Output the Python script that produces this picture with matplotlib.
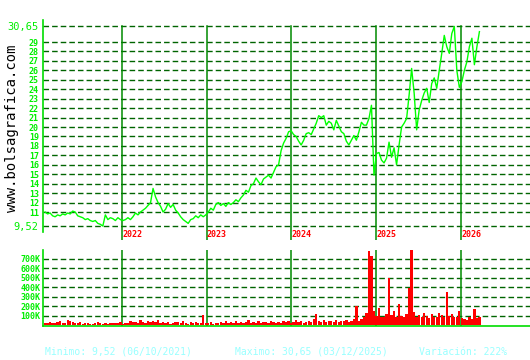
import numpy as np
import pandas as pd
import matplotlib
matplotlib.use("Agg")
import matplotlib.pyplot as plt

# daily-ish closes (about one value every 2.5 px)
price = [
    11.0, 10.8, 10.9, 10.6, 10.5, 10.7, 10.6, 10.8, 10.7, 10.9, 10.8, 11.1,
    11.0, 10.6, 10.5, 10.4, 10.2, 10.3, 10.1, 10.0, 10.1, 9.8, 9.7, 9.52,
    10.7, 10.2, 10.4, 10.3, 10.1, 10.4, 10.2, 10.1, 10.2, 10.4, 10.2, 10.5,
    10.9, 10.7, 11.0, 11.2, 11.4, 11.7, 12.0, 13.5, 12.6, 12.0, 11.6, 11.0,
    11.3, 11.9, 11.5, 11.8, 11.2, 10.9, 10.5, 10.2, 10.0, 9.8, 10.2, 10.3,
    10.6, 10.4, 10.7, 10.5, 10.7, 11.0, 11.4, 11.2, 11.8, 12.0, 11.7, 11.9,
    11.6, 12.0, 11.8, 12.0, 12.3, 12.1, 12.5, 12.8, 13.3, 13.1, 13.8, 14.0,
    14.6, 14.2, 13.9, 14.5, 14.7, 14.9, 14.6, 15.2, 15.8, 16.0, 17.5, 18.3,
    18.8, 19.5, 19.6, 19.2, 19.0, 18.5, 18.1, 18.6, 19.3, 19.4, 19.2, 19.8,
    20.4, 21.2, 21.0, 21.2, 20.2, 20.6, 20.4, 19.7, 20.7, 20.1, 19.5, 19.3,
    18.5, 18.1, 18.6, 19.1, 18.6, 19.5, 20.5, 20.2, 20.2, 20.9, 22.3, 14.9,
    17.2, 17.3, 16.5, 16.2, 16.7, 18.4, 16.8, 17.8, 16.0, 18.1, 20.0, 20.4,
    20.9, 23.4, 26.2, 23.6, 19.7, 21.8, 22.8, 23.6, 24.1, 22.6, 24.6, 25.2,
    24.1, 26.0, 27.8, 29.7, 28.5, 27.8, 29.9, 30.65, 26.0, 24.2, 24.8, 26.0,
    26.9, 28.5, 29.4, 26.6, 28.5, 30.1,
]

# volume in thousands, same dates
volume_k = [
    25, 20, 35, 22, 18, 30, 40, 25, 20, 55, 45, 30,
    25, 20, 28, 15, 18, 22, 12, 15, 20, 30, 18, 15,
    22, 15, 20, 18, 25, 20, 30, 15, 20, 25, 45, 30,
    35, 25, 50, 30, 25, 40, 35, 45, 30, 50, 25, 35,
    20, 30, 15, 25, 30, 35, 20, 45, 25, 15, 35, 20,
    30, 20, 25, 105, 25, 20, 30, 15, 25, 20, 35, 18,
    40, 22, 30, 25, 45, 20, 30, 25, 35, 55, 25, 30,
    20, 40, 25, 30, 35, 25, 45, 30, 25, 35, 20, 40,
    30, 45, 25, 35, 50, 30, 40, 25, 35, 45, 30, 60,
    115, 40, 35, 50, 30, 45, 40, 35, 55, 30, 45, 40,
    50, 35, 45, 60, 200, 40, 60, 90, 130, 780, 730, 150,
    100, 180, 90, 80, 120, 500, 110, 150, 90, 220, 100, 80,
    120, 390, 790, 140, 90, 110, 80, 130, 100, 70, 120, 90,
    80, 130, 110, 90, 350, 100, 120, 80, 90, 150, 70, 60,
    50, 80, 60, 165, 70, 90,
]

years = [2022, 2023, 2024, 2025, 2026]
price_ticks = list(range(11, 30))
price_min, price_max = 9.52, 30.65
vol_ticks = [100, 200, 300, 400, 500, 600, 700]

dates = pd.date_range("2021-02-03", "2026-03-21", periods=len(price))
xlim = (pd.Timestamp("2021-01-25"), pd.Timestamp("2026-10-25"))

W, H = 530, 360
fig = plt.figure(figsize=(W / 100, H / 100), dpi=100)
fig.patch.set_facecolor("white")


def box(x0, y0, x1, y1):
    return [x0 / W, 1 - y1 / H, (x1 - x0) / W, (y1 - y0) / H]


ax = fig.add_axes(box(43, 20, 530, 240))
axv = fig.add_axes(box(43, 250, 530, 326))

grid_col = "#006400"
year_col = "#008a00"
axis_col = "#00dd00"
lab_col = "#00ee00"
mono = "DejaVu Sans Mono"

# --- price panel
ax.set_xlim(*xlim)
ax.set_ylim(8.04, 31.33)
for v in price_ticks + [price_min, price_max]:
    ax.axhline(v, color=grid_col, lw=1.0, ls=(0, (4, 2.2)), zorder=1)
top_frac = (price_max - 8.04) / (31.33 - 8.04)
for yr in years:
    d = pd.Timestamp(f"{yr}-01-01")
    ax.axvline(d, ymin=0, ymax=top_frac, color=year_col, lw=1.1, zorder=2)
    ax.text(d, 0.005, str(yr), transform=ax.get_xaxis_transform(),
            color="#ff0000", fontsize=6, fontweight="bold", family=mono,
            ha="left", va="bottom")
ax.plot(dates, price, color="#00ff00", lw=1.0, zorder=3)

ax.set_yticks(price_ticks + [price_min, price_max])
ax.set_yticklabels([str(v) for v in price_ticks] + ["9,52", "30,65"])
for lab in ax.get_yticklabels():
    lab.set_family(mono)
    lab.set_color(lab_col)
    if "," in lab.get_text():
        lab.set_fontsize(7.5)
    else:
        lab.set_fontsize(6)
        lab.set_fontweight("bold")
ax.tick_params(axis="y", length=0, pad=3)
ax.set_xticks([])
for s in ["top", "right", "bottom"]:
    ax.spines[s].set_visible(False)
ax.spines["left"].set_color(axis_col)
ax.spines["left"].set_linewidth(1.2)
ax.spines["left"].set_bounds(8.9, 31.33)
ax.set_facecolor("none")

# --- volume panel
axv.set_xlim(*xlim)
axv.set_ylim(-10, 790)
for v in vol_ticks:
    axv.axhline(v, color=grid_col, lw=1.0, ls=(0, (4, 2.2)), zorder=1)
for yr in years:
    axv.axvline(pd.Timestamp(f"{yr}-01-01"), color=year_col, lw=1.1, zorder=2)
step = (dates[1] - dates[0]).days
axv.bar(dates, volume_k, width=step, bottom=0, color="#ff0000", lw=0, zorder=3)
axv.set_yticks(vol_ticks)
axv.set_yticklabels([f"{v}K" for v in vol_ticks])
for lab in axv.get_yticklabels():
    lab.set_family(mono)
    lab.set_color(lab_col)
    lab.set_fontsize(6)
    lab.set_fontweight("bold")
axv.tick_params(axis="y", length=0, pad=2)
axv.set_xticks([])
axv.spines["top"].set_visible(False)
axv.spines["right"].set_visible(False)
for s in ["left", "bottom"]:
    axv.spines[s].set_color(axis_col)
    axv.spines[s].set_linewidth(1.2)
    axv.spines[s].set_zorder(4)
axv.set_facecolor("none")

# --- side and footer texts
fig.text(12 / W, 1 - 128 / H, "www.bolsagrafica.com", rotation=90,
         family=mono, fontsize=10, color="black", ha="center", va="center")
foot = "#99ffff"
fig.text(45 / W, 1 - 352 / H, "Minimo: 9,52 (06/10/2021)", family=mono,
         fontsize=7, color=foot, ha="left", va="center")
fig.text(235 / W, 1 - 352 / H, "Maximo: 30,65 (03/12/2025)", family=mono,
         fontsize=7, color=foot, ha="left", va="center")
fig.text(419 / W, 1 - 352 / H, "Variación: 222%", family=mono,
         fontsize=7, color=foot, ha="left", va="center")

fig.savefig("out.png", dpi=100, facecolor="white")
